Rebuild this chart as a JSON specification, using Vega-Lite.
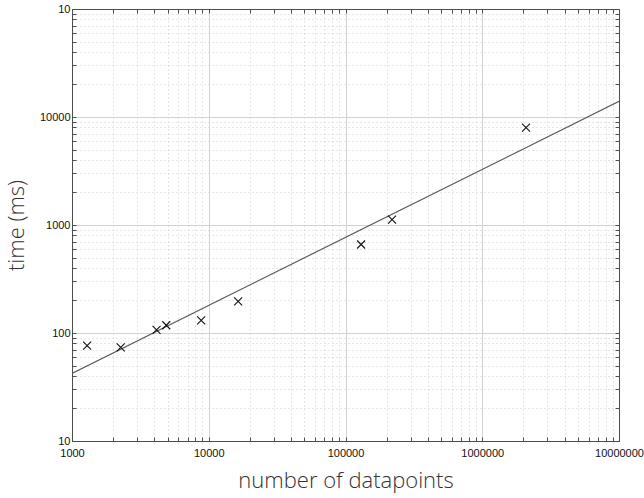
{
  "$schema": "https://vega.github.io/schema/vega-lite/v6.json",
  "width": 547,
  "height": 432,
  "autosize": "none",
  "padding": {"left": 72, "top": 9, "right": 25, "bottom": 57},
  "background": "white",
  "config": {
    "view": {"stroke": null},
    "axis": {
      "domainColor": "#4d4d4d",
      "domainWidth": 1,
      "tickColor": "#4d4d4d",
      "tickSize": -4,
      "tickWidth": 1,
      "labelFont": "Liberation Sans",
      "labelFontSize": 11,
      "labelColor": "#111111",
      "titleFont": "Open Sans",
      "titleFontWeight": 300,
      "titleFontSize": 22,
      "titleColor": "#333333"
    }
  },
  "datasets": {
    "runs": [
      {"n": 1290, "t": 76.5},
      {"n": 2270, "t": 73.5},
      {"n": 4150, "t": 107},
      {"n": 4890, "t": 118},
      {"n": 8800, "t": 131},
      {"n": 16400, "t": 196},
      {"n": 130000, "t": 660},
      {"n": 219000, "t": 1120},
      {"n": 2090000, "t": 7980}
    ],
    "fit": [
      {"n": 1000, "t": 42.3},
      {"n": 10000000, "t": 13960}
    ]
  },
  "layer": [
    {
      "data": {"name": "fit"},
      "mark": {"type": "line", "color": "#5a5a5a", "strokeWidth": 1.2, "clip": true},
      "encoding": {
        "x": {
          "field": "n", "type": "quantitative",
          "scale": {"type": "log", "domain": [1000, 10000000], "nice": false},
          "axis": {
            "orient": "top", "title": null, "labels": false, "grid": false,
            "values": [1000,2000,3000,4000,5000,6000,7000,8000,9000,10000,20000,30000,40000,50000,60000,70000,80000,90000,100000,200000,300000,400000,500000,600000,700000,800000,900000,1000000,2000000,3000000,4000000,5000000,6000000,7000000,8000000,9000000,10000000]
          }
        },
        "y": {
          "field": "t", "type": "quantitative",
          "scale": {"type": "log", "domain": [10, 100000], "nice": false},
          "axis": {
            "orient": "right", "title": null, "labels": false, "grid": false,
            "values": [10,20,30,40,50,60,70,80,90,100,200,300,400,500,600,700,800,900,1000,2000,3000,4000,5000,6000,7000,8000,9000,10000,20000,30000,40000,50000,60000,70000,80000,90000,100000]
          }
        }
      }
    },
    {
      "data": {"name": "runs"},
      "mark": {
        "type": "point",
        "shape": "M-1,-1L1,1M-1,1L1,-1",
        "filled": false,
        "size": 64,
        "stroke": "#111111",
        "strokeWidth": 1.1,
        "opacity": 1
      },
      "encoding": {
        "x": {
          "field": "n", "type": "quantitative",
          "axis": {
            "orient": "bottom",
            "title": "number of datapoints",
            "titlePadding": 12,
            "labelPadding": 10,
            "format": "d",
            "labelExpr": "abs(log(datum.value)/LN10 - round(log(datum.value)/LN10)) < 0.000001 ? datum.label : ''",
            "labelOverlap": false,
            "labelFlush": false,
            "grid": true,
            "gridColor": {"condition": {"test": "abs(log(datum.value)/LN10 - round(log(datum.value)/LN10)) < 0.000001", "value": "#d2d2d2"}, "value": "#cdcdcd"},
            "gridDash": {"condition": {"test": "abs(log(datum.value)/LN10 - round(log(datum.value)/LN10)) < 0.000001", "value": []}, "value": [1, 3]},
            "gridWidth": 1,
            "values": [1000,2000,3000,4000,5000,6000,7000,8000,9000,10000,20000,30000,40000,50000,60000,70000,80000,90000,100000,200000,300000,400000,500000,600000,700000,800000,900000,1000000,2000000,3000000,4000000,5000000,6000000,7000000,8000000,9000000,10000000]
          }
        },
        "y": {
          "field": "t", "type": "quantitative",
          "axis": {
            "orient": "left",
            "title": "time (ms)",
            "titlePadding": 11,
            "labelPadding": 6,
            "format": "d",
            "labelExpr": "datum.value == 100000 ? '10' : (abs(log(datum.value)/LN10 - round(log(datum.value)/LN10)) < 0.000001 ? datum.label : '')",
            "labelOverlap": false,
            "labelFlush": false,
            "grid": true,
            "gridColor": {"condition": {"test": "abs(log(datum.value)/LN10 - round(log(datum.value)/LN10)) < 0.000001", "value": "#d2d2d2"}, "value": "#cdcdcd"},
            "gridDash": {"condition": {"test": "abs(log(datum.value)/LN10 - round(log(datum.value)/LN10)) < 0.000001", "value": []}, "value": [1, 3]},
            "gridWidth": 1,
            "values": [10,20,30,40,50,60,70,80,90,100,200,300,400,500,600,700,800,900,1000,2000,3000,4000,5000,6000,7000,8000,9000,10000,20000,30000,40000,50000,60000,70000,80000,90000,100000]
          }
        }
      }
    }
  ],
  "resolve": {"axis": {"x": "independent", "y": "independent"}}
}
